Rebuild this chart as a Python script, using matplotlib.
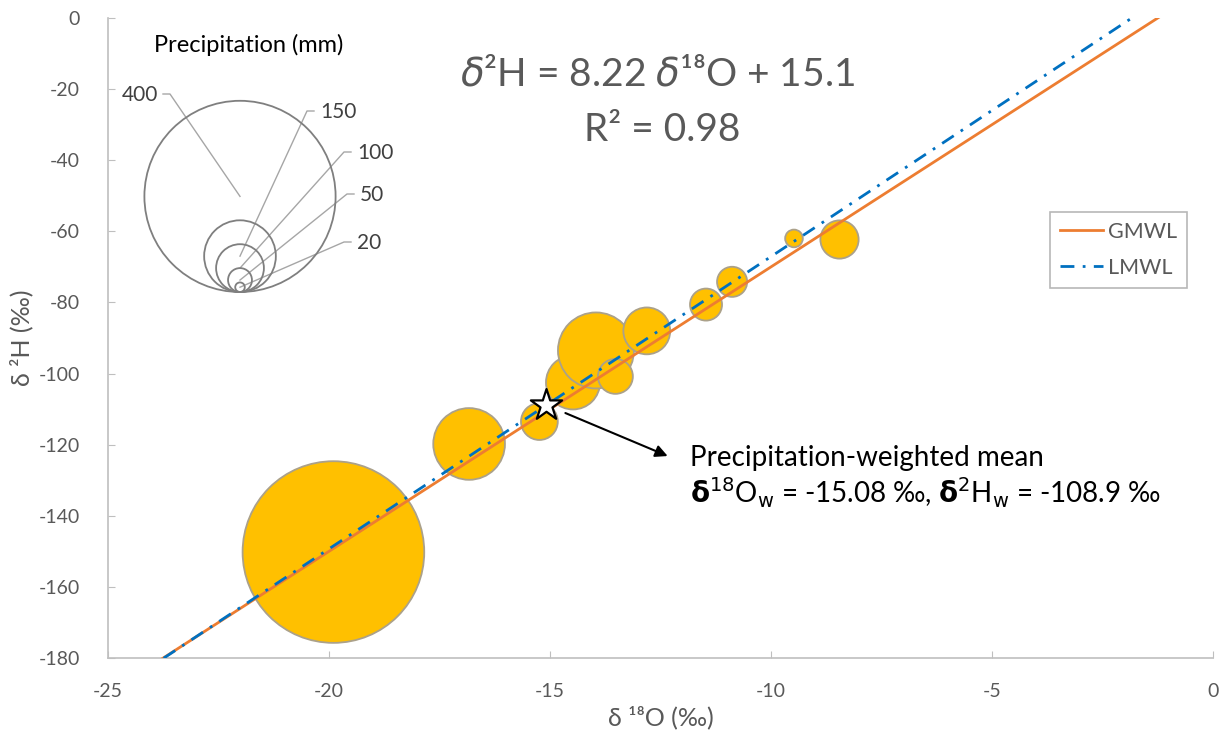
import matplotlib
matplotlib.use("Agg")
import matplotlib.pyplot as plt
from matplotlib.patches import Ellipse
from matplotlib.lines import Line2D
import numpy as np

# ---------------- data ----------------
d18O = [-19.9, -16.83, -14.48, -13.96, -13.52, -15.24, -12.81, -11.47, -10.88, -9.48, -8.45]
d2H = [-150.2, -119.8, -102.5, -93.5, -100.8, -113.5, -88.0, -80.6, -74.2, -62.0, -62.3]
precip_mm = [380, 150, 113, 159, 73, 77, 98, 67, 63, 37, 80]

wmean_d18O = -15.08
wmean_d2H = -108.9

gmwl_slope, gmwl_int = 8.0, 10.0
lmwl_slope, lmwl_int = 8.22, 15.1
r2 = 0.98

size_legend_vals = [400, 150, 100, 50, 20]

x_ticks = [-25, -20, -15, -10, -5, 0]
y_ticks = [0, -20, -40, -60, -80, -100, -120, -140, -160, -180]

# ---------------- style ----------------
W, H = 1222, 743
FAM = ['Lato', 'DejaVu Sans']
plt.rcParams['font.family'] = FAM
plt.rcParams['axes.unicode_minus'] = False
GREY_TXT = '#595959'
AX_GREY = '#BFBFBF'
R_PER_MM = 0.239  # bubble radius in px per mm

fig = plt.figure(figsize=(W / 100, H / 100), dpi=100)
ax = fig.add_axes([108 / W, 1 - 658 / H, (1213 - 108) / W, (658 - 18) / H])


def px(x, y):
    return (x / W, 1 - y / H)


# bubbles
sizes = [(2 * v * R_PER_MM * 72 / 100) ** 2 for v in precip_mm]
ax.scatter(d18O, d2H, s=sizes, c='#FFC000', edgecolors='#ABA18A', linewidths=1.3, zorder=2)

# lines
xs = np.array([-25.0, 0.0])
ax.plot(xs, gmwl_slope * xs + gmwl_int, color='#ED7D31', lw=2.0, zorder=3, label='GMWL')
ax.plot(xs, lmwl_slope * xs + lmwl_int, color='#0070C0', lw=2.0, zorder=3,
        dashes=(5, 3, 1, 3), label='LMWL')

# weighted mean star
ax.scatter([wmean_d18O], [wmean_d2H], marker='*', s=560, facecolor='white',
           edgecolor='black', linewidths=1.6, zorder=5)

ax.set_xlim(-25, 0)
ax.set_ylim(-180, 0)
ax.set_xticks(x_ticks)
ax.set_yticks(y_ticks)
ax.set_xticklabels([str(t) for t in x_ticks])
ax.set_yticklabels([str(t) for t in y_ticks])
ax.tick_params(direction='in', length=5, color=AX_GREY, labelcolor=GREY_TXT, labelsize=14)
ax.tick_params(axis='x', pad=18)
ax.tick_params(axis='y', pad=20)
for s in ['top', 'right']:
    ax.spines[s].set_visible(False)
for s in ['left', 'bottom']:
    ax.spines[s].set_color(AX_GREY)
    ax.spines[s].set_linewidth(1.2)

ax.set_xlabel('δ ¹⁸O (‰)', color=GREY_TXT, fontsize=18, labelpad=4)
ax.set_ylabel('δ ²H (‰)', color=GREY_TXT, fontsize=18, labelpad=4)

# legend
leg = ax.legend(loc='upper left', bbox_to_anchor=px(1050, 212), bbox_transform=fig.transFigure,
                borderaxespad=0, fontsize=15.5, frameon=True, fancybox=False, handlelength=2.0,
                handletextpad=0.25, labelspacing=0.75, borderpad=0.45)
leg.get_frame().set_edgecolor('#A6A6A6')
leg.get_frame().set_linewidth(1.2)
for t in leg.get_texts():
    t.set_color(GREY_TXT)

# equation
fig.text(*px(658, 75), f'$\\delta$²H = {lmwl_slope:.2f} $\\delta$¹⁸O + {lmwl_int:.1f}',
         ha='center', va='center', fontsize=28, color=GREY_TXT)
fig.text(*px(662, 130), f'R² = {r2:.2f}', ha='center', va='center', fontsize=28, color=GREY_TXT)

# annotation of weighted mean
ax.annotate('', xy=(-12.28, -123.5), xytext=(-14.71, -110.8),
            arrowprops=dict(arrowstyle='-|>', color='black', lw=1.5, mutation_scale=18),
            zorder=6)
fig.text(*px(690, 458), 'Precipitation-weighted mean', ha='left', va='center', fontsize=20,
         color='black')
fig.text(*px(690, 493),
         f'$\\mathbf{{\\delta}}$$^{{18}}$O$_{{\\mathrm{{w}}}}$ = {wmean_d18O:.2f} ‰, '
         f'$\\mathbf{{\\delta}}$$^{{2}}$H$_{{\\mathrm{{w}}}}$ = {wmean_d2H:.1f} ‰',
         ha='left', va='center', fontsize=20, color='black')

# size legend
fig.text(*px(249, 45), 'Precipitation (mm)', ha='center', va='center', fontsize=17, color='black')
base_x, base_y = 240, 292
label_pos = {400: (158, 95), 150: (320, 112), 100: (357, 153), 50: (360, 195), 20: (357, 243)}
for v in size_legend_vals:
    r = v * R_PER_MM
    cx, cy = base_x, base_y - r
    e = Ellipse(px(cx, cy), 2 * r / W, 2 * r / H, transform=fig.transFigure, fill=False,
                edgecolor='#7F7F7F', lw=1.3, zorder=3)
    fig.add_artist(e)
    lx, ly = label_pos[v]
    if v == 400:
        pts = [(lx + 5, ly - 1), (lx + 12, ly - 1), (cx, cy)]
        ha = 'right'
    else:
        pts = [(lx - 6, ly - 1), (lx - 13, ly - 1), (cx, cy)]
        ha = 'left'
    xs_l = [p[0] / W for p in pts]
    ys_l = [1 - p[1] / H for p in pts]
    fig.add_artist(Line2D(xs_l, ys_l, transform=fig.transFigure, color='#A6A6A6', lw=1.0))
    fig.text(*px(lx, ly), str(v), ha=ha, va='center', fontsize=15, color='#404040')

fig.savefig('out.png', dpi=100)
